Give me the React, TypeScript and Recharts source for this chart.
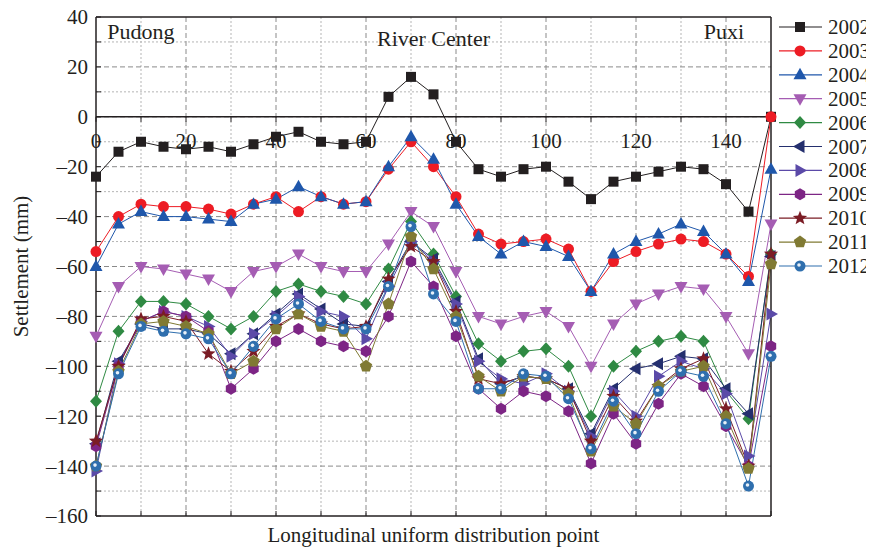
import { LineChart, Line, XAxis, YAxis, CartesianGrid, ReferenceLine, ReferenceDot, Legend } from "recharts";

// distribution points along the tunnel
const points = [0, 5, 10, 15, 20, 25, 30, 35, 40, 45, 50, 55, 60, 65, 70, 75, 80, 85, 90, 95, 100, 105, 110, 115, 120, 125, 130, 135, 140, 145, 150];

const s2002 = [-24, -14, -10, -12, -13, -12, -14, -11, -8, -6, -10, -11, -10, 8, 16, 9, -10, -21, -24, -21, -20, -26, -33, -26, -24, -22, -20, -21, -27, -38, 0];
const s2003 = [-54, -40, -35, -36, -36, -37, -39, -35, -32, -38, -32, -35, -34, -21, -10, -20, -32, -47, -51, -50, -49, -53, -70, -58, -54, -51, -49, -50, -55, -64, 0];
const s2004 = [-60, -43, -38, -40, -40, -41, -42, -35, -33, -28, -32, -35, -34, -20, -8, -17, -35, -48, -55, -50, -52, -56, -70, -55, -50, -47, -43, -46, -55, -66, -21];
const s2005 = [-88, -68, -60, -61, -63, -65, -70, -62, -60, -55, -60, -62, -62, -51, -38, -44, -62, -80, -83, -80, -78, -84, -100, -83, -75, -71, -68, -69, -80, -95, -43];
const s2006 = [-114, -86, -74, -74, -75, -80, -85, -80, -70, -67, -70, -72, -75, -61, -42, -55, -72, -91, -98, -94, -93, -100, -120, -100, -94, -90, -88, -90, -110, -121, -55];
const s2007 = [-131, -98, -83, -85, -85, -87, -95, -87, -79, -71, -77, -83, -84, -66, -50, -57, -74, -97, -107, -104, -105, -109, -127, -109, -101, -99, -96, -97, -109, -119, -56];
const s2008 = [-142, -99, -82, -78, -80, -84, -96, -87, -80, -72, -78, -80, -89, -68, -50, -58, -75, -98, -105, -107, -103, -110, -128, -110, -120, -104, -98, -101, -111, -136, -79];
const s2009 = [-132, -100, -82, -78, -80, -86, -109, -101, -90, -85, -90, -92, -94, -80, -58, -68, -88, -109, -117, -110, -112, -118, -139, -119, -131, -115, -103, -108, -124, -140, -92];
const s2010 = [-130, -100, -81, -80, -82, -95, -102, -94, -84, -79, -83, -85, -84, -65, -52, -58, -78, -105, -107, -104, -105, -109, -130, -112, -122, -108, -101, -97, -117, -140, -55];
const s2011 = [-140, -102, -83, -82, -84, -87, -103, -98, -85, -79, -84, -86, -100, -75, -48, -61, -80, -104, -110, -104, -105, -111, -134, -116, -123, -108, -102, -100, -120, -141, -59];
const s2012 = [-140, -103, -84, -86, -87, -89, -103, -92, -81, -75, -82, -85, -85, -68, -44, -71, -82, -109, -109, -103, -104, -113, -133, -114, -127, -110, -102, -104, -123, -148, -96];

const xTicks = [0, 10, 20, 30, 40, 50, 60, 70, 80, 90, 100, 110, 120, 130, 140, 150];
const xLabels = [0, 20, 40, 60, 80, 100, 120, 140];
const yTicks = [40, 30, 20, 10, 0, -10, -20, -30, -40, -50, -60, -70, -80, -90, -100, -110, -120, -130, -140, -150, -160];
const xMajor = [20, 40, 60, 80, 100, 120, 140];
const xMinor = [10, 30, 50, 70, 90, 110, 130];
const yMajor = [20, 0, -20, -40, -60, -80, -100, -120, -140];
const yMinor = [30, 10, -10, -30, -50, -70, -90, -110, -130, -150];

const series = [
  { key: "2002", values: s2002, color: "#231f20", shape: "square" },
  { key: "2003", values: s2003, color: "#ed1c24", shape: "circle" },
  { key: "2004", values: s2004, color: "#1f57ab", shape: "up" },
  { key: "2005", values: s2005, color: "#a55db3", shape: "down" },
  { key: "2006", values: s2006, color: "#2f8a43", shape: "diamond" },
  { key: "2007", values: s2007, color: "#242f6e", shape: "left" },
  { key: "2008", values: s2008, color: "#5b4aa8", shape: "right" },
  { key: "2009", values: s2009, color: "#7d2585", shape: "hexagon" },
  { key: "2010", values: s2010, color: "#7b1c25", shape: "star" },
  { key: "2011", values: s2011, color: "#807a33", shape: "pentagon" },
  { key: "2012", values: s2012, color: "#2f6fae", shape: "ball" },
];

const data = points.map((x, i) => {
  const row: Record<string, number> = { x };
  series.forEach((s) => (row[s.key] = s.values[i]));
  return row;
});

const FONT = "'Liberation Serif', 'Times New Roman', serif";
const INK = "#231f20";

const poly = (cx: number, cy: number, n: number, r: number, rot: number, inner?: number) => {
  const pts: string[] = [];
  const count = inner ? n * 2 : n;
  for (let i = 0; i < count; i++) {
    const rr = inner && i % 2 === 1 ? inner : r;
    const a = rot + (i * 2 * Math.PI) / count;
    pts.push(`${cx + rr * Math.cos(a)},${cy + rr * Math.sin(a)}`);
  }
  return pts.join(" ");
};

function Marker({ shape, cx, cy, color }: { shape: string; cx: number; cy: number; color: string }) {
  switch (shape) {
    case "square":
      return <rect x={cx - 5} y={cy - 5} width={10} height={10} fill={color} />;
    case "circle":
      return <circle cx={cx} cy={cy} r={5.5} fill={color} />;
    case "up":
      return <polygon points={`${cx},${cy - 7} ${cx + 6.5},${cy + 4.5} ${cx - 6.5},${cy + 4.5}`} fill={color} />;
    case "down":
      return <polygon points={`${cx},${cy + 7} ${cx + 6.5},${cy - 4.5} ${cx - 6.5},${cy - 4.5}`} fill={color} />;
    case "diamond":
      return <polygon points={`${cx},${cy - 6.5} ${cx + 6},${cy} ${cx},${cy + 6.5} ${cx - 6},${cy}`} fill={color} />;
    case "left":
      return <polygon points={`${cx - 7},${cy} ${cx + 4.5},${cy - 6.5} ${cx + 4.5},${cy + 6.5}`} fill={color} />;
    case "right":
      return <polygon points={`${cx + 7},${cy} ${cx - 4.5},${cy - 6.5} ${cx - 4.5},${cy + 6.5}`} fill={color} />;
    case "hexagon":
      return <polygon points={poly(cx, cy, 6, 6, Math.PI / 6)} fill={color} />;
    case "star":
      return <polygon points={poly(cx, cy, 5, 7.5, -Math.PI / 2, 3.2)} fill={color} />;
    case "pentagon":
      return <polygon points={poly(cx, cy, 5, 6.5, -Math.PI / 2)} fill={color} />;
    default:
      return (
        <g>
          <circle cx={cx} cy={cy} r={5.5} fill={color} />
          <circle cx={cx - 1} cy={cy - 1} r={1.8} fill="#e8f0f8" />
        </g>
      );
  }
}

const fmtY = (v: number) => (v % 20 === 0 ? String(v).replace("-", "\u2013") : "");

function LegendBox() {
  return (
    <svg width={95} height={270} style={{ display: "block", overflow: "visible", fontFamily: FONT }}>
      {series.map((s, i) => {
        const y = 19 + i * 23.9;
        return (
          <g key={s.key}>
            <line x1={0} x2={43} y1={y} y2={y} stroke={s.color} strokeWidth={1.2} />
            <Marker shape={s.shape} cx={21} cy={y} color={s.color} />
            <text x={49} y={y + 7} style={{ fontFamily: FONT }} fontSize={21} fill={INK}>
              {s.key}
            </text>
          </g>
        );
      })}
    </svg>
  );
}

const notes = [
  { text: "Pudong", x: 2.5, y: 31, anchor: "start" },
  { text: "River Center", x: 75, y: 28.5, anchor: "middle" },
  { text: "Puxi", x: 144, y: 31, anchor: "end" },
];

export default function App() {
  return (
    <div style={{ fontFamily: FONT, width: 866, height: 539 }}>
      <LineChart width={866} height={539} data={data} style={{ fontFamily: FONT }} margin={{ top: 8, right: 102, bottom: 4, left: 0 }}>
        <CartesianGrid xAxisId={0} yAxisId={0} stroke="#b5b5b5" strokeDasharray="2 2" verticalValues={xMinor} horizontalValues={yMinor} />
        <CartesianGrid xAxisId={0} yAxisId={0} stroke="#8a8a8a" strokeDasharray="5 3" verticalValues={xMajor} horizontalValues={yMajor} />
        <XAxis
          xAxisId={0}
          dataKey="x"
          type="number"
          domain={[0, 150]}
          ticks={xTicks}
          tickFormatter={() => ""}
          tickSize={-5}
          height={27}
          axisLine={{ stroke: INK, strokeWidth: 1.5 }}
          tickLine={{ stroke: INK }}
          label={{
            content: (p: any) => (
              <text x={p.viewBox.x + p.viewBox.width / 2} y={p.viewBox.y + 26} textAnchor="middle" style={{ fontFamily: FONT }} fontSize={21} fill={INK}>
                Longitudinal uniform distribution point
              </text>
            ),
          }}
        />
        <XAxis xAxisId="top" orientation="top" dataKey="x" type="number" domain={[0, 150]} height={1} tick={false} tickLine={false} axisLine={{ stroke: INK, strokeWidth: 1.5 }} />
        <YAxis
          yAxisId={0}
          type="number"
          domain={[-160, 40]}
          ticks={yTicks}
          interval={0}
          tickFormatter={fmtY}
          tickSize={-5}
          tickMargin={13}
          width={88}
          axisLine={{ stroke: INK, strokeWidth: 1.5 }}
          tickLine={{ stroke: INK }}
          tick={{ fontSize: 21, fill: INK, style: { fontFamily: FONT } }}
          label={{
            content: (p: any) => {
              const cx = p.viewBox.x + 20;
              const cy = p.viewBox.y + p.viewBox.height / 2;
              return (
                <text x={cx} y={cy} transform={`rotate(-90 ${cx} ${cy})`} textAnchor="middle" style={{ fontFamily: FONT }} fontSize={21} fill={INK}>
                  Settlement (mm)
                </text>
              );
            },
          }}
        />
        <YAxis
          yAxisId="right"
          orientation="right"
          type="number"
          domain={[-160, 40]}
          ticks={yTicks}
          interval={0}
          tickFormatter={() => ""}
          tickSize={-5}
          width={1}
          axisLine={{ stroke: INK, strokeWidth: 1.5 }}
          tickLine={{ stroke: INK }}
        />
        <ReferenceLine y={0} stroke={INK} strokeWidth={1.5} />
        {xTicks.map((v) => (
          <ReferenceDot
            key={`xt-${v}`}
            x={v}
            y={0}
            r={0}
            shape={(p: any) => (
              <g>
                <line x1={p.cx} x2={p.cx} y1={p.cy} y2={p.cy + 5} stroke={INK} />
                {xLabels.includes(v) && (
                  <text x={p.cx} y={p.cy + 31} textAnchor="middle" style={{ fontFamily: FONT }} fontSize={21} fill={INK}>
                    {v}
                  </text>
                )}
              </g>
            )}
          />
        ))}
        {notes.map((n) => (
          <ReferenceDot
            key={n.text}
            x={n.x}
            y={n.y}
            r={0}
            shape={(p: any) => (
              <text x={p.cx} y={p.cy} textAnchor={n.anchor} style={{ fontFamily: FONT }} fontSize={22} fill={INK}>
                {n.text}
              </text>
            )}
          />
        ))}
        {series.map((s) => (
          <Line
            key={s.key}
            dataKey={s.key}
            name={s.key}
            type="linear"
            stroke={s.color}
            strokeWidth={1}
            isAnimationActive={false}
            activeDot={false}
            dot={(p: any) => <Marker key={`${s.key}-${p.index}`} shape={s.shape} cx={p.cx} cy={p.cy} color={s.color} />}
          />
        ))}
        <Legend
          layout="vertical"
          align="center"
          verticalAlign="middle"
          content={() => <LegendBox />}
          wrapperStyle={{ top: 0, left: 771, width: 95, height: 270 }}
        />
      </LineChart>
    </div>
  );
}
